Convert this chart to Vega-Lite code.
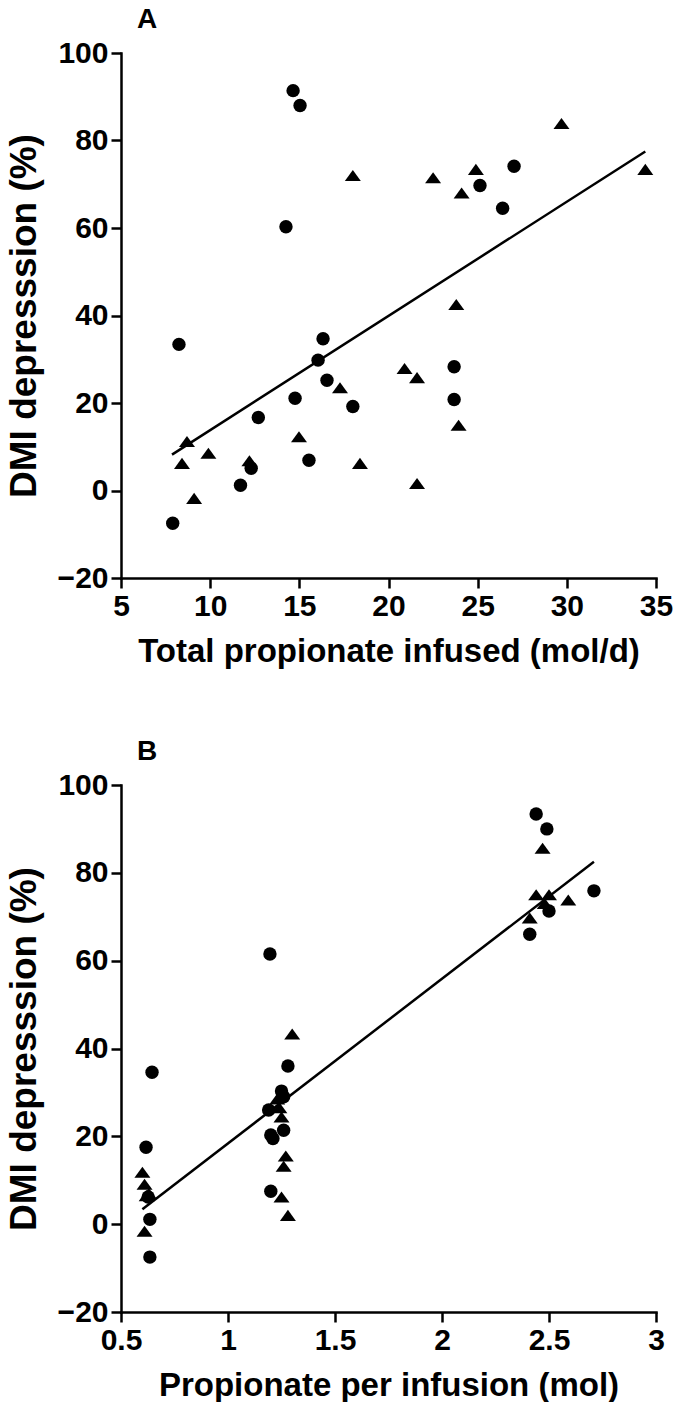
{
  "$schema": "https://vega.github.io/schema/vega-lite/v6.json",
  "background": "white",
  "padding": {"left": 5, "top": 6, "right": 5, "bottom": 0},
  "spacing": 70,
  "datasets": {
    "ptsA": [
      {"x": 7.9, "y": -7.5, "series": "S1"},
      {"x": 8.25, "y": 33.4, "series": "S1"},
      {"x": 14.65, "y": 91.4, "series": "S1"},
      {"x": 15.04, "y": 88.0, "series": "S1"},
      {"x": 14.25, "y": 60.3, "series": "S1"},
      {"x": 16.33, "y": 34.7, "series": "S1"},
      {"x": 16.05, "y": 29.8, "series": "S1"},
      {"x": 16.55, "y": 25.2, "series": "S1"},
      {"x": 18.0, "y": 19.2, "series": "S1"},
      {"x": 14.76, "y": 21.1, "series": "S1"},
      {"x": 12.7, "y": 16.7, "series": "S1"},
      {"x": 12.3, "y": 5.1, "series": "S1"},
      {"x": 15.54, "y": 6.9, "series": "S1"},
      {"x": 11.7, "y": 1.2, "series": "S1"},
      {"x": 23.68, "y": 28.3, "series": "S1"},
      {"x": 23.68, "y": 20.8, "series": "S1"},
      {"x": 27.04, "y": 74.1, "series": "S1"},
      {"x": 25.13, "y": 69.7, "series": "S1"},
      {"x": 26.4, "y": 64.5, "series": "S1"},
      {"x": 8.42, "y": 6.2, "series": "S2"},
      {"x": 8.7, "y": 11.2, "series": "S2"},
      {"x": 9.9, "y": 8.5, "series": "S2"},
      {"x": 9.1, "y": -1.8, "series": "S2"},
      {"x": 12.2, "y": 6.8, "series": "S2"},
      {"x": 14.98, "y": 12.3, "series": "S2"},
      {"x": 17.28, "y": 23.5, "series": "S2"},
      {"x": 18.4, "y": 6.2, "series": "S2"},
      {"x": 18.0, "y": 72.0, "series": "S2"},
      {"x": 22.5, "y": 71.5, "series": "S2"},
      {"x": 24.9, "y": 73.4, "series": "S2"},
      {"x": 24.1, "y": 68.0, "series": "S2"},
      {"x": 29.7, "y": 83.9, "series": "S2"},
      {"x": 23.8, "y": 42.5, "series": "S2"},
      {"x": 20.9, "y": 27.9, "series": "S2"},
      {"x": 21.6, "y": 25.8, "series": "S2"},
      {"x": 23.93, "y": 14.9, "series": "S2"},
      {"x": 21.6, "y": 1.6, "series": "S2"},
      {"x": 34.4, "y": 73.4, "series": "S2"}
    ],
    "fitA": [
      {"x": 7.86, "y": 8.2},
      {"x": 34.4, "y": 77.5}
    ],
    "ptsB": [
      {"x": 0.635, "y": -7.5, "series": "S1"},
      {"x": 0.645, "y": 34.6, "series": "S1"},
      {"x": 0.617, "y": 17.5, "series": "S1"},
      {"x": 0.627, "y": 6.2, "series": "S1"},
      {"x": 0.635, "y": 1.1, "series": "S1"},
      {"x": 2.44, "y": 93.4, "series": "S1"},
      {"x": 2.49, "y": 90.0, "series": "S1"},
      {"x": 2.71, "y": 75.9, "series": "S1"},
      {"x": 2.5, "y": 71.3, "series": "S1"},
      {"x": 2.41, "y": 66.0, "series": "S1"},
      {"x": 1.196, "y": 61.5, "series": "S1"},
      {"x": 1.28, "y": 36.0, "series": "S1"},
      {"x": 1.25, "y": 30.3, "series": "S1"},
      {"x": 1.26, "y": 29.0, "series": "S1"},
      {"x": 1.19, "y": 26.0, "series": "S1"},
      {"x": 1.26, "y": 21.4, "series": "S1"},
      {"x": 1.2, "y": 20.3, "series": "S1"},
      {"x": 1.21, "y": 19.5, "series": "S1"},
      {"x": 1.2, "y": 7.5, "series": "S1"},
      {"x": 0.6, "y": 11.8, "series": "S2"},
      {"x": 0.61, "y": 9.1, "series": "S2"},
      {"x": 0.62, "y": 6.5, "series": "S2"},
      {"x": 0.61, "y": -1.6, "series": "S2"},
      {"x": 0.63, "y": 7.0, "series": "S2"},
      {"x": 1.30, "y": 43.3, "series": "S2"},
      {"x": 1.25, "y": 24.4, "series": "S2"},
      {"x": 1.23, "y": 28.5, "series": "S2"},
      {"x": 1.24, "y": 26.5, "series": "S2"},
      {"x": 1.27, "y": 15.5, "series": "S2"},
      {"x": 1.26, "y": 13.2, "series": "S2"},
      {"x": 1.25, "y": 6.2, "series": "S2"},
      {"x": 1.28, "y": 2.0, "series": "S2"},
      {"x": 2.47, "y": 85.6, "series": "S2"},
      {"x": 2.44, "y": 75.0, "series": "S2"},
      {"x": 2.5, "y": 75.0, "series": "S2"},
      {"x": 2.59, "y": 73.8, "series": "S2"},
      {"x": 2.41, "y": 69.7, "series": "S2"},
      {"x": 2.48, "y": 73.0, "series": "S2"}
    ],
    "fitB": [
      {"x": 0.6, "y": 3.4},
      {"x": 2.71, "y": 82.5}
    ]
  },
  "config": {
    "view": {"stroke": null},
    "font": "Liberation Sans",
    "axis": {
      "grid": false,
      "domainColor": "black",
      "domainWidth": 2.5,
      "domainCap": "square",
      "tickColor": "black",
      "tickWidth": 2.5,
      "tickSize": 10,
      "labelFont": "Liberation Sans",
      "labelFontWeight": "bold",
      "labelFontSize": 30,
      "labelColor": "black",
      "labelOverlap": false,
      "labelFlush": false,
      "titleFont": "Liberation Sans",
      "titleFontWeight": "bold",
      "titleColor": "black"
    },
    "axisX": {"labelPadding": 3, "titlePadding": 14, "titleFontSize": 33},
    "axisY": {"labelPadding": 3, "titlePadding": 14, "titleFontSize": 37},
    "title": {"fontSize": 28, "fontWeight": "bold", "anchor": "start", "color": "black", "font": "Liberation Sans"}
  },
  "vconcat": [
    {
      "title": {"text": "A", "frame": "group", "dx": 16, "offset": 4},
      "width": 535,
      "height": 525,
      "layer": [
        {
          "data": {"name": "ptsA"},
          "transform": [{"filter": "datum.series == 'S1'"}],
          "mark": {"type": "point", "shape": "circle", "filled": true, "color": "black", "opacity": 1, "size": 180},
          "encoding": {
            "x": {"field": "x", "type": "quantitative", "scale": {"domain": [5, 35], "nice": false, "zero": false}, "axis": {"values": [5, 10, 15, 20, 25, 30, 35], "title": "Total propionate infused (mol/d)"}},
            "y": {"field": "y", "type": "quantitative", "scale": {"domain": [-20, 100], "nice": false, "zero": false}, "axis": {"values": [-20, 0, 20, 40, 60, 80, 100], "title": "DMI depresssion (%)"}}
          }
        },
        {
          "data": {"name": "ptsA"},
          "transform": [{"filter": "datum.series == 'S2'"}],
          "mark": {"type": "point", "shape": "M-1,0.69L0,-0.69L1,0.69Z", "filled": true, "color": "black", "opacity": 1, "size": 256},
          "encoding": {
            "x": {"field": "x", "type": "quantitative"},
            "y": {"field": "y", "type": "quantitative"}
          }
        },
        {
          "data": {"name": "fitA"},
          "mark": {"type": "line", "color": "black", "strokeWidth": 2.5},
          "encoding": {
            "x": {"field": "x", "type": "quantitative"},
            "y": {"field": "y", "type": "quantitative"}
          }
        }
      ]
    },
    {
      "title": {"text": "B", "frame": "group", "dx": 16, "offset": 4},
      "width": 535,
      "height": 527,
      "layer": [
        {
          "data": {"name": "ptsB"},
          "transform": [{"filter": "datum.series == 'S1'"}],
          "mark": {"type": "point", "shape": "circle", "filled": true, "color": "black", "opacity": 1, "size": 180},
          "encoding": {
            "x": {"field": "x", "type": "quantitative", "scale": {"domain": [0.5, 3], "nice": false, "zero": false}, "axis": {"values": [0.5, 1, 1.5, 2, 2.5, 3], "format": "~g", "title": "Propionate per infusion (mol)"}},
            "y": {"field": "y", "type": "quantitative", "scale": {"domain": [-20, 100], "nice": false, "zero": false}, "axis": {"values": [-20, 0, 20, 40, 60, 80, 100], "title": "DMI depresssion (%)"}}
          }
        },
        {
          "data": {"name": "ptsB"},
          "transform": [{"filter": "datum.series == 'S2'"}],
          "mark": {"type": "point", "shape": "M-1,0.69L0,-0.69L1,0.69Z", "filled": true, "color": "black", "opacity": 1, "size": 256},
          "encoding": {
            "x": {"field": "x", "type": "quantitative"},
            "y": {"field": "y", "type": "quantitative"}
          }
        },
        {
          "data": {"name": "fitB"},
          "mark": {"type": "line", "color": "black", "strokeWidth": 2.5},
          "encoding": {
            "x": {"field": "x", "type": "quantitative"},
            "y": {"field": "y", "type": "quantitative"}
          }
        }
      ]
    }
  ]
}
